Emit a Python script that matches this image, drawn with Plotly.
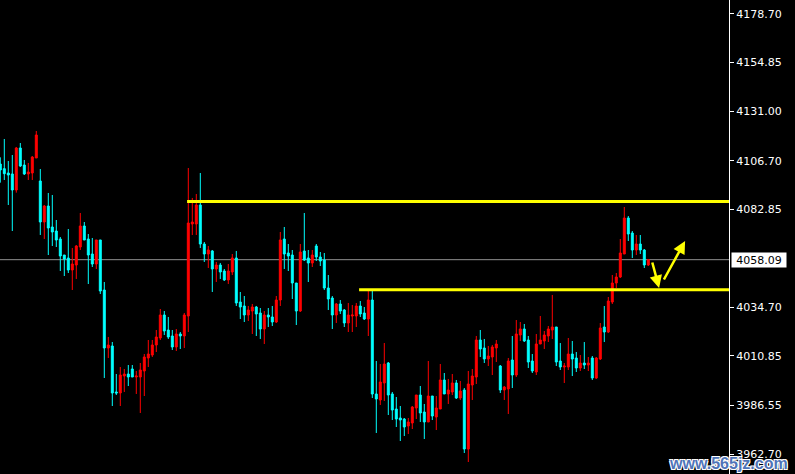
import plotly.graph_objects as go

# OHLC values (one candle per bar, left to right)
opens = [4105.06, 4102.77, 4100.65, 4100.16, 4092.30, 4112.92, 4104.57, 4100.16, 4100.65, 4108.01,
         4096.72, 4076.59, 4084.44, 4074.14, 4072.17, 4068.25, 4060.39, 4058.92, 4053.03, 4055.48,
         4064.32, 4074.63, 4068.25, 4060.88, 4055.97, 4067.76, 4043.21, 4014.74, 4015.72, 3993.14,
         3992.65, 4000.99, 4001.97, 4004.43, 4000.50, 4000.50, 4003.45, 4009.83, 4011.30, 4016.21,
         4019.65, 4030.94, 4023.57, 4020.63, 4015.23, 4021.61, 4020.63, 4030.45, 4075.61, 4075.61,
         4084.94, 4065.79, 4060.88, 4062.36, 4053.52, 4055.48, 4052.54, 4048.12, 4052.05, 4058.92,
         4037.32, 4035.36, 4030.94, 4032.90, 4034.86, 4031.92, 4024.06, 4030.94, 4029.96, 4027.50,
         4038.30, 4068.24, 4061.37, 4060.39, 4046.64, 4032.90, 4062.35, 4058.92, 4056.46, 4064.81,
         4059.41, 4057.93, 4044.19, 4039.28, 4030.93, 4036.33, 4033.39, 4027.01, 4030.44, 4030.44,
         4035.35, 4031.92, 4028.97, 4038.30, 3992.16, 3989.21, 3997.56, 4007.37, 3992.16, 3984.79,
         3980.37, 3979.88, 3976.45, 3977.92, 3985.28, 3991.66, 3983.32, 3978.41, 3991.17, 3980.86,
         3984.79, 3999.03, 3992.16, 3993.14, 3997.56, 3990.19, 3994.12, 3965.15, 3996.57, 4000.50,
         4018.66, 4014.74, 4009.34, 4010.32, 4014.74, 4005.90, 3994.12, 3994.61, 4008.85, 4001.48,
         4021.12, 4024.07, 4018.66, 4008.35, 4002.96, 4016.70, 4018.17, 4020.63, 4023.57, 4025.05,
         4008.35, 4005.40, 4005.40, 4011.78, 4009.82, 4004.91, 4007.37, 4006.38, 4009.82, 4000.00,
         4009.33, 4025.04, 4022.58, 4037.31, 4046.64, 4049.58, 4060.88, 4078.55, 4071.19, 4062.84,
         4065.79, 4062.84, 4055.48]
highs = [4108.34, 4117.34, 4106.54, 4109.48, 4113.41, 4115.37, 4107.03, 4105.56, 4108.99, 4121.26,
         4102.61, 4084.94, 4090.83, 4089.85, 4077.57, 4069.23, 4060.39, 4073.15, 4063.83, 4065.30,
         4081.01, 4076.59, 4070.70, 4068.74, 4067.76, 4067.76, 4047.14, 4020.14, 4017.68, 4001.97,
         4005.41, 4004.43, 4006.39, 4006.39, 4003.45, 4007.37, 4011.79, 4018.66, 4018.66, 4023.57,
         4033.88, 4032.90, 4029.96, 4023.57, 4024.06, 4022.59, 4031.92, 4103.10, 4088.38, 4090.34,
         4100.65, 4066.77, 4064.81, 4062.85, 4056.96, 4056.47, 4053.52, 4055.97, 4060.88, 4062.36,
         4042.23, 4040.26, 4035.36, 4036.34, 4035.36, 4034.37, 4032.90, 4034.37, 4035.36, 4040.26,
         4071.68, 4074.14, 4065.79, 4062.84, 4046.64, 4065.79, 4081.01, 4062.84, 4062.84, 4065.79,
         4061.86, 4061.37, 4050.57, 4040.26, 4036.83, 4038.30, 4033.88, 4036.83, 4035.84, 4036.83,
         4037.81, 4034.86, 4043.21, 4042.72, 4008.35, 4006.88, 4017.19, 4007.86, 3993.14, 3990.68,
         3986.26, 3980.37, 3980.37, 3986.26, 3991.66, 3996.08, 3987.25, 4008.35, 3991.17, 3991.17,
         4006.88, 4002.46, 3999.52, 4001.97, 3999.03, 3998.54, 3995.10, 4003.45, 4004.43, 4020.63,
         4023.57, 4019.16, 4015.72, 4016.21, 4018.66, 4006.39, 3996.08, 4009.83, 4020.63, 4028.48,
         4027.50, 4026.52, 4020.63, 4011.79, 4021.61, 4030.45, 4023.08, 4025.54, 4040.76, 4025.05,
         4017.18, 4007.37, 4019.64, 4018.17, 4012.77, 4011.29, 4017.67, 4010.31, 4010.80, 4010.31,
         4027.00, 4035.35, 4039.77, 4050.57, 4051.55, 4068.24, 4083.95, 4079.53, 4072.17, 4070.20,
         4070.20, 4063.33, 4058.42]
lows = [4095.90, 4097.21, 4084.94, 4072.17, 4090.99, 4103.59, 4099.66, 4097.21, 4097.21, 4108.01,
        4070.21, 4068.25, 4060.39, 4064.81, 4064.32, 4052.54, 4050.08, 4051.55, 4043.21, 4048.61,
        4062.84, 4067.75, 4046.15, 4054.50, 4053.52, 4041.25, 4000.01, 4009.83, 3986.26, 3991.66,
        3986.26, 3993.14, 3996.08, 4000.50, 3992.16, 3982.83, 3991.17, 4005.41, 4010.32, 4012.77,
        4018.66, 4021.12, 4019.16, 4013.76, 4013.26, 4014.25, 4014.74, 4022.59, 4070.21, 4070.21,
        4063.83, 4056.96, 4054.01, 4042.23, 4047.14, 4048.61, 4047.63, 4046.16, 4050.57, 4035.36,
        4028.97, 4027.50, 4027.99, 4021.61, 4020.63, 4019.16, 4016.70, 4025.05, 4025.54, 4027.01,
        4035.36, 4053.52, 4052.53, 4038.79, 4026.02, 4032.41, 4057.44, 4047.13, 4054.50, 4057.44,
        4054.99, 4043.21, 4033.39, 4024.06, 4027.01, 4031.43, 4025.04, 4022.59, 4022.59, 4025.04,
        4029.95, 4028.48, 4020.62, 3990.19, 3973.01, 3986.75, 3988.72, 3981.85, 3979.39, 3975.95,
        3969.08, 3971.54, 3972.52, 3974.97, 3979.88, 3978.41, 3970.06, 3978.41, 3979.39, 3974.48,
        3984.79, 3992.16, 3987.25, 3991.66, 3989.70, 3989.21, 3963.19, 3958.77, 3989.21, 3997.06,
        4010.32, 4007.37, 4005.90, 4001.48, 4007.86, 3992.65, 3989.21, 3982.34, 3995.10, 4000.50,
        4018.17, 4017.68, 4004.92, 4002.46, 4001.48, 4016.70, 4014.25, 4017.68, 4019.16, 4005.90,
        4003.93, 3997.55, 4003.93, 4000.98, 4002.95, 4003.44, 4004.42, 4003.44, 3999.02, 3999.51,
        4008.84, 4017.67, 4022.09, 4036.33, 4044.18, 4049.09, 4060.88, 4067.26, 4058.91, 4060.38,
        4060.88, 4054.00, 4054.98]
closes = [4102.12, 4100.32, 4099.66, 4092.30, 4112.92, 4104.08, 4100.16, 4101.14, 4108.50, 4119.30,
          4076.59, 4084.44, 4073.65, 4071.68, 4067.75, 4059.90, 4058.43, 4053.03, 4055.97, 4064.81,
          4074.63, 4067.75, 4060.39, 4055.97, 4067.76, 4042.72, 4014.74, 4016.21, 3992.65, 3992.65,
          4001.48, 4001.97, 4000.50, 4000.50, 4000.99, 4003.94, 4010.32, 4011.79, 4016.21, 4020.14,
          4030.94, 4023.08, 4020.14, 4015.23, 4021.61, 4020.63, 4030.94, 4076.10, 4076.59, 4084.94,
          4065.79, 4060.88, 4062.85, 4053.52, 4055.48, 4052.05, 4048.12, 4052.54, 4058.92, 4036.83,
          4034.86, 4030.94, 4033.39, 4034.86, 4031.43, 4024.06, 4030.94, 4029.96, 4027.50, 4038.30,
          4067.76, 4060.88, 4059.90, 4046.64, 4032.90, 4061.86, 4057.93, 4056.46, 4060.39, 4059.41,
          4057.44, 4044.19, 4038.79, 4030.93, 4036.33, 4032.90, 4027.01, 4030.93, 4030.93, 4035.35,
          4031.43, 4028.97, 4038.30, 3992.15, 3989.70, 3998.05, 4006.88, 3991.66, 3984.30, 3979.88,
          3979.39, 3975.95, 3978.41, 3985.77, 3991.66, 3982.83, 3978.41, 3991.17, 3981.35, 3985.28,
          3999.03, 3992.16, 3994.12, 3997.56, 3990.19, 3993.63, 3965.15, 3997.06, 4000.99, 4018.66,
          4014.25, 4009.34, 4010.81, 4015.23, 4016.70, 3994.12, 3995.59, 4008.35, 4001.48, 4021.61,
          4024.07, 4018.17, 4007.86, 4003.45, 4016.70, 4018.66, 4021.12, 4024.07, 4025.05, 4007.86,
          4005.40, 4005.89, 4011.78, 4009.33, 4004.91, 4007.37, 4006.38, 4007.37, 4000.00, 4009.82,
          4024.55, 4022.58, 4037.80, 4046.64, 4049.58, 4061.37, 4078.55, 4070.69, 4062.84, 4065.79,
          4062.84, 4055.48, 4058.09]
bars = list(range(len(opens)))

# axis ticks (price scale) and levels
tick_values = [4178.70, 4154.85, 4131.00, 4106.70, 4082.85, 4034.70, 4010.85, 3986.55, 3962.70]
tick_labels = ["%.2f" % v for v in tick_values]
current_price = 4058.09
resistance = 4086.65
resistance_start = 46.7
support = 4043.30
support_start = 89.7
# arrows: (tail bar, tail price, head bar, head price)
arrows = [(162.9, 4057.44, 164.7, 4044.19), (165.7, 4047.62, 171.2, 4067.26)]

x_range = [-0.075, 182.175]
y_range = [3952.88, 4185.57]

fig = go.Figure()
fig.add_trace(go.Candlestick(
    x=bars, open=opens, high=highs, low=lows, close=closes,
    increasing=dict(line=dict(color="#FF0000", width=1), fillcolor="#FF0000"),
    decreasing=dict(line=dict(color="#00FFFF", width=1), fillcolor="#00FFFF"),
    whiskerwidth=0, hoverinfo="skip", showlegend=False,
))

fig.add_shape(type="line", xref="paper", x0=0, x1=1, yref="y", y0=current_price, y1=current_price,
              line=dict(color="#909090", width=1), layer="below")
fig.add_shape(type="line", xref="x", x0=resistance_start, x1=x_range[1], yref="y",
              y0=resistance, y1=resistance, line=dict(color="#FFFF00", width=3))
fig.add_shape(type="line", xref="x", x0=support_start, x1=x_range[1], yref="y",
              y0=support, y1=support, line=dict(color="#FFFF00", width=3))

for (tx, ty, hx, hy) in arrows:
    fig.add_annotation(x=hx, y=hy, ax=tx, ay=ty, xref="x", yref="y", axref="x", ayref="y",
                       text="", showarrow=True, arrowhead=2, arrowsize=1, arrowwidth=2.5,
                       arrowcolor="#FFFF00")

fig.add_annotation(xref="paper", x=1, xanchor="left", xshift=2, yref="y", y=current_price,
                   text="4058.09", showarrow=False, bgcolor="#FFFFFF", borderpad=1,
                   width=52, height=12,
                   font=dict(family="DejaVu Sans", size=11, color="#000000"))

fig.add_annotation(xref="paper", x=790 / 729, xanchor="right", yref="paper", y=0, yanchor="bottom",
                   yshift=0, text="<b>www.565jz.com</b>", showarrow=False,
                   font=dict(family="Liberation Sans", size=16, color="#4f74b8",
                             shadow="1px 1px 0 #ffffff, -1px -1px 0 #ffffff, 1px -1px 0 #ffffff, -1px 1px 0 #ffffff"))

fig.update_layout(
    width=795, height=474,
    margin=dict(l=0, r=66, t=0, b=0),
    paper_bgcolor="#000000", plot_bgcolor="#000000",
    xaxis=dict(range=x_range, visible=False, rangeslider=dict(visible=False), fixedrange=True),
    yaxis=dict(range=y_range, side="right", tickvals=tick_values, ticktext=tick_labels,
               showgrid=False, zeroline=False, showline=True, linecolor="#FFFFFF", linewidth=1,
               ticks="outside", ticklen=4, tickcolor="#FFFFFF",
               tickfont=dict(family="DejaVu Sans", size=11, color="#FFFFFF")),
)

fig.write_html("out.html", config={"displayModeBar": False},
               post_script="document.body.style.margin='0';")
